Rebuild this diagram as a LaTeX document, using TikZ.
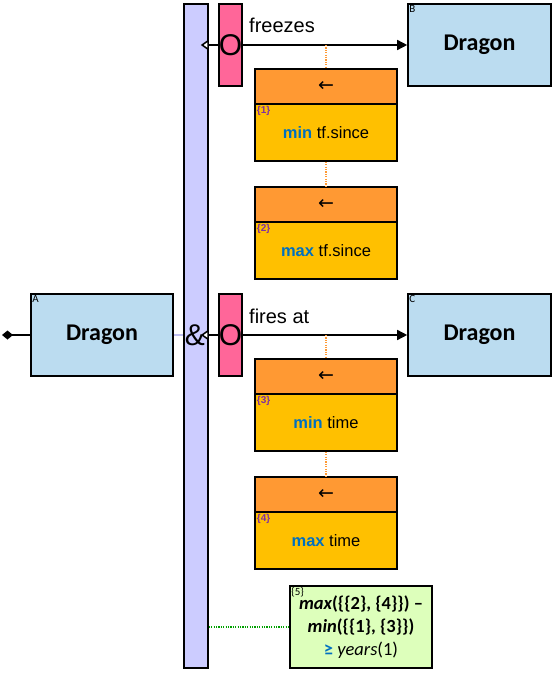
\documentclass[tikz,border=0pt]{standalone}
\usepackage{fontspec}
\setmainfont{Liberation Sans}
\newfontfamily\calfont{Carlito}
\newfontfamily\dejfont{DejaVu Sans}
\usetikzlibrary{arrows.meta}
\definecolor{lav}{RGB}{204,204,255}
\definecolor{lavline}{RGB}{190,190,240}
\definecolor{pinkc}{RGB}{255,102,153}
\definecolor{dblue}{RGB}{187,220,240}
\definecolor{orh}{RGB}{255,153,51}
\definecolor{orb}{RGB}{255,192,0}
\definecolor{grn}{RGB}{221,255,187}
\definecolor{kwblue}{RGB}{0,112,192}
\definecolor{idpurp}{RGB}{128,48,160}
\definecolor{dotgrn}{RGB}{0,160,0}
\begin{document}
\begin{tikzpicture}[x=1pt,y=-1pt,
  box/.style={draw=black, line width=1.6pt, inner sep=0pt},
  dragonbox/.style={box, fill=dblue, minimum width=143pt, minimum height=82pt, font=\calfont\bfseries\fontsize{24}{24}\selectfont},
  corner/.style={label={[anchor=north west, inner sep=2pt, font=\calfont\fontsize{11}{11}\selectfont]north west:#1}},
  pinkbox/.style={box, fill=pinkc, minimum width=23pt, minimum height=82pt, font=\fontsize{30}{30}\selectfont},
  headbox/.style={box, fill=orh, minimum width=142pt, minimum height=35pt, font=\dejfont\fontsize{19}{19}\selectfont},
  bodybox/.style={box, fill=orb, minimum width=142pt, minimum height=57pt, font=\fontsize{16.5}{16.5}\selectfont},
  idlab/.style={label={[anchor=north west, inner sep=2.5pt, text=idpurp, font=\bfseries\fontsize{10}{10}\selectfont]north west:#1}},
  conn/.style={draw=black, line width=1.5pt},
  lefttip/.style={{Triangle[fill=white,length=8pt,width=11pt]}-{Triangle[length=10pt,width=10pt]}},
  odot/.style={draw=orh, line width=1.3pt, dash pattern=on 1.2pt off 1.2pt},
  gdot/.style={draw=dotgrn, line width=1.3pt, dash pattern=on 1.2pt off 1.2pt},
  lbl/.style={anchor=base west, inner sep=0pt, font=\fontsize{20}{20}\selectfont}]
\useasboundingbox (0,0) rectangle (552,676);

% boxes
\node[box, fill=lav, minimum width=24pt, minimum height=664pt] (bar) at (196,336) {};
\node[dragonbox, corner=B] (B) at (479.5,45) {Dragon};
\node[dragonbox, corner=C] (C) at (479.5,335) {Dragon};
\node[dragonbox, corner=A, minimum width=142pt] (A) at (102,335) {Dragon};

% connectors
\coordinate (dA) at (2,335);
\draw[conn, -{Diamond[length=11pt,width=9pt]}] (A.west) -- (dA);
\draw[draw=lavline, line width=1.5pt] (A.east) -- (bar.west |- A.east);
\coordinate (e1) at ([xshift=-8pt]bar.east |- B.west);
\coordinate (e2) at ([xshift=-8pt]bar.east |- C.west);
\draw[conn, lefttip] (e1) -- (B.west);
\draw[conn, lefttip] (e2) -- (C.west);

% pink port boxes
\node[pinkbox] (p1) at (230.5,45) {O};
\node[pinkbox] (p2) at (230.5,335) {O};
\node[inner sep=0pt, font=\fontsize{30}{30}\selectfont] (amp) at (195,335) {\&};

% labels
\node[lbl] (l1) at (249,33) {freezes};
\node[lbl] (l2) at (249,323) {fires at};

% orange filter boxes
\node[headbox] (h1) at (326,86.5) {←};
\node[bodybox, idlab={\{1\}}] (b1) at (326,132.5) {\textcolor{kwblue}{\bfseries min} tf.since};
\node[headbox] (h2) at (326,204.5) {←};
\node[bodybox, idlab={\{2\}}] (b2) at (326,250.5) {\textcolor{kwblue}{\bfseries max} tf.since};
\node[headbox] (h3) at (326,376.5) {←};
\node[bodybox, idlab={\{3\}}] (b3) at (326,422.5) {\textcolor{kwblue}{\bfseries min} time};
\node[headbox] (h4) at (326,494.5) {←};
\node[bodybox, idlab={\{4\}}] (b4) at (326,540.5) {\textcolor{kwblue}{\bfseries max} time};

\draw[odot] (h1.north |- B.west) -- (h1.north);
\draw[odot] (b1.south) -- (h2.north);
\draw[odot] (h3.north |- C.west) -- (h3.north);
\draw[odot] (b3.south) -- (h4.north);

% constraint box
\node[box, fill=grn, minimum width=142pt, minimum height=82pt, align=center,
      font=\calfont\fontsize{18.5}{23}\selectfont,
      label={[anchor=north west, inner sep=2pt, font=\calfont\fontsize{11}{11}\selectfont]north west:\{5\}}] (g) at (361,627)
  {\bfseries\itshape max\upshape(\{\{2\}, \{4\}\}) –\\
   \bfseries\itshape min\upshape(\{\{1\}, \{3\}\})\\
   \textcolor{kwblue}{\bfseries ≥} \mdseries\itshape years\upshape(1)};
\draw[gdot] (bar.east |- g.west) -- (g.west);
\end{tikzpicture}
\end{document}
